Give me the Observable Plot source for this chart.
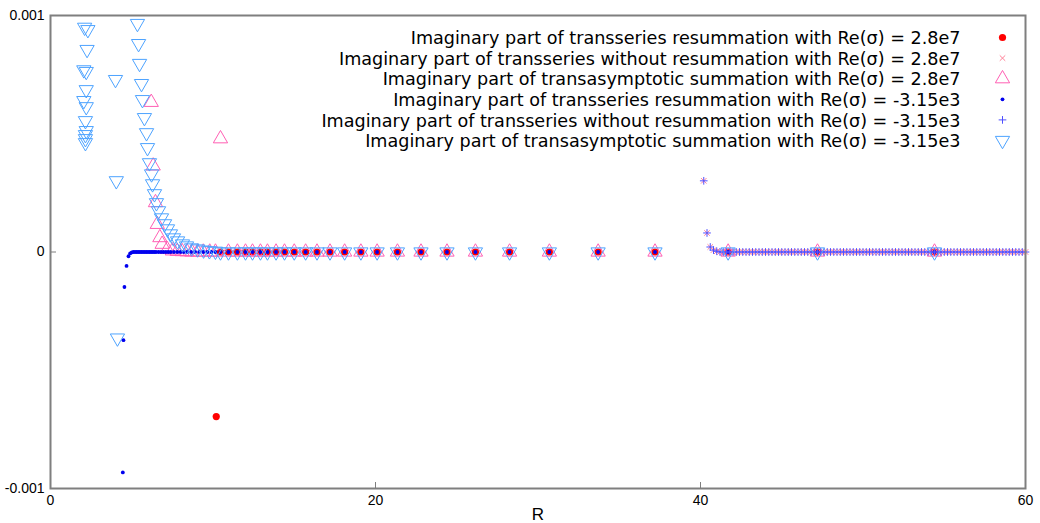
<!DOCTYPE html>
<html>
<head>
<meta charset="utf-8">
<script src="https://cdn.jsdelivr.net/npm/d3@7"></script>
<script src="https://cdn.jsdelivr.net/npm/@observablehq/plot@0.6"></script>
<style>
  html, body { margin: 0; padding: 0; background: #ffffff; }
  #chart svg { display: block; }
</style>
</head>
<body>
<div id="chart"></div>
<script>
// ---- Axis ticks -------------------------------------------------------------
const xTicks = [0, 20, 40, 60];
const xTickLabels = ["0", "20", "40", "60"];
const xInnerTicks = [20, 40];
const yTicks = [-0.001, 0, 0.001];
const yTickLabels = ["-0.001", "0", "0.001"];

// ---- Legend labels ----------------------------------------------------------
const legendLabels = [
  "Imaginary part of transseries resummation with Re(σ) = 2.8e7",
  "Imaginary part of transseries without resummation with Re(σ) = 2.8e7",
  "Imaginary part of transasymptotic summation with Re(σ) = 2.8e7",
  "Imaginary part of transseries resummation with Re(σ) = -3.15e3",
  "Imaginary part of transseries without resummation with Re(σ) = -3.15e3",
  "Imaginary part of transasymptotic summation with Re(σ) = -3.15e3"
];

// ---- Re(σ) = 2.8e7 : transseries resummation --------------------------------
const resumA_R = [10.2, 10.46, 10.95, 11.5, 12.0, 12.43, 12.92, 13.35, 13.88, 14.4,
  15.0, 15.7, 16.4, 17.2, 18.1, 19.1, 20.1, 21.35, 22.8, 24.4, 26.15, 28.25, 30.7,
  33.7, 37.2, 41.7, 47.2, 54.4];
const resumA_v = [-6.96e-4, 0, 0, 0, 0, 0, 0, 0, 0, 0,
  0, 0, 0, 0, 0, 0, 0, 0, 0, 0, 0, 0, 0,
  0, 0, 0, 0, 0];

// ---- Re(σ) = 2.8e7 : transasymptotic summation ------------------------------
const transA_R = [6.2, 6.32, 6.46, 6.57, 6.73, 6.87, 7.18, 7.5, 7.8, 8.1, 8.4, 8.7,
  9.05, 9.4, 9.8, 10.15, 10.46, 10.95, 11.5, 12.0, 12.43, 12.92, 13.35, 13.88, 14.4,
  15.0, 15.7, 16.4, 17.2, 18.1, 19.1, 20.1, 21.35, 22.8, 24.4, 26.15, 28.25, 30.7,
  33.7, 37.2, 41.7, 47.2, 54.4];
const transA_v = [6.33e-4, 3.64e-4, 2.09e-4, 1.17e-4, 6.1e-5, 3.3e-5, 1.1e-5, 5e-6, 3e-6, 2e-6, 1e-6, 0,
  0, 0, 0, 0, 4.79e-4, 0, 0, 0, 0, 0, 0, 0, 0,
  0, 0, 0, 0, 0, 0, 0, 0, 0, 0, 0, 0, 0,
  0, 0, 0, 0, 0];

// ---- Re(σ) = -3.15e3 : transseries resummation ------------------------------
const resumB_R = [4.45, 4.49, 4.55, 4.68, 4.8, 4.9, 5.0, 5.1, 5.2, 5.3, 5.4, 5.5, 5.6,
  5.7, 5.8, 5.9, 6.0, 6.1, 6.2, 6.3, 6.4, 6.5, 6.65, 6.8, 6.95, 7.1, 7.25, 7.4, 7.6,
  7.8, 8.0, 8.2, 8.4, 8.65, 8.9, 9.15, 9.4, 9.65, 9.9, 10.15, 10.46, 10.95, 11.5,
  12.0, 12.43, 12.92, 13.35, 13.88, 14.4, 15.0, 15.7, 16.4, 17.2, 18.1, 19.1, 20.1,
  21.35, 22.8, 24.4, 26.15, 28.25, 30.7, 33.7, 37.2, 41.7, 47.2, 54.4];
const resumB_v = [-9.32e-4, -3.73e-4, -1.48e-4, -5.9e-5, -1.8e-5, -6e-6, -2e-6, 0, 0, 0, 0, 0, 0,
  0, 0, 0, 0, 0, 0, 0, 0, 0, 0, 0, 0, 0, 0, 0, 0,
  0, 0, 0, 0, 0, 0, 0, 0, 0, 0, 0, 0, 0, 0,
  0, 0, 0, 0, 0, 0, 0, 0, 0, 0, 0, 0, 0,
  0, 0, 0, 0, 0, 0, 0, 0, 0, 0, 0];

// ---- Re(σ) = -3.15e3 : transasymptotic summation ----------------------------
const transB_R = [2.1, 2.3, 2.25, 2.05, 2.2, 2.2, 2.05, 2.2, 2.15, 2.2, 2.15, 2.15, 2.15,
  4.0, 4.05, 4.12,
  5.35, 5.42, 5.48, 5.6, 5.66, 5.78, 5.91, 5.97, 6.09, 6.22, 6.28, 6.4, 6.52, 6.65,
  6.83, 7.02, 7.2, 7.38, 7.57, 7.82, 8.12, 8.37, 8.68, 9.05, 9.42, 9.78, 10.15,
  10.46, 10.95, 11.5, 12.0, 12.43, 12.92, 13.35, 13.88, 14.4, 15.0, 15.7, 16.4, 17.2,
  18.1, 19.1, 20.1, 21.35, 22.8, 24.4, 26.15, 28.25, 30.7, 33.7, 37.2, 41.7, 47.2, 54.4];
const transB_v = [9.5e-4, 9.4e-4, 8.56e-4, 7.7e-4, 7.63e-4, 6.86e-4, 6.4e-4, 6.14e-4, 5.55e-4, 5.13e-4, 4.96e-4, 4.79e-4, 4.62e-4,
  7.29e-4, 3.01e-4, -3.64e-4,
  9.66e-4, 8.81e-4, 7.97e-4, 7.12e-4, 6.44e-4, 5.68e-4, 5.04e-4, 4.41e-4, 3.77e-4, 3.3e-4, 2.88e-4, 2.46e-4, 2.08e-4, 1.74e-4,
  1.44e-4, 1.19e-4, 9.75e-5, 7.63e-5, 5.93e-5, 4.66e-5, 3.39e-5, 2.54e-5, 1.7e-5, 1.27e-5, 8e-6, 5e-6, 3e-6,
  0, 0, 0, 0, 0, 0, 0, 0, 0, 0, 0, 0, 0,
  0, 0, 0, 0, 0, 0, 0, 0, 0, 0, 0, 0, 0, 0];

// ---- Transseries without resummation (both Re(σ), identical here) -----------
const noResum_R = [40.2, 40.4, 40.6, 40.8, 41, 41.2, 41.4, 41.6, 41.8, 42,
  42.2, 42.4, 42.6, 42.8, 43, 43.2, 43.4, 43.6, 43.8, 44,
  44.2, 44.4, 44.6, 44.8, 45, 45.2, 45.4, 45.6, 45.8, 46,
  46.2, 46.4, 46.6, 46.8, 47, 47.2, 47.4, 47.6, 47.8, 48,
  48.2, 48.4, 48.6, 48.8, 49, 49.2, 49.4, 49.6, 49.8, 50,
  50.2, 50.4, 50.6, 50.8, 51, 51.2, 51.4, 51.6, 51.8, 52,
  52.2, 52.4, 52.6, 52.8, 53, 53.2, 53.4, 53.6, 53.8, 54,
  54.2, 54.4, 54.6, 54.8, 55, 55.2, 55.4, 55.6, 55.8, 56,
  56.2, 56.4, 56.6, 56.8, 57, 57.2, 57.4, 57.6, 57.8, 58,
  58.2, 58.4, 58.6, 58.8, 59, 59.2, 59.4, 59.6, 59.8, 60];
const noResumA_v = [3.01e-4, 8.05e-5, 2.12e-5, 8e-6, 3e-6, 0, 0, 0, 0, 0,
  0, 0, 0, 0, 0, 0, 0, 0, 0, 0,
  0, 0, 0, 0, 0, 0, 0, 0, 0, 0,
  0, 0, 0, 0, 0, 0, 0, 0, 0, 0,
  0, 0, 0, 0, 0, 0, 0, 0, 0, 0,
  0, 0, 0, 0, 0, 0, 0, 0, 0, 0,
  0, 0, 0, 0, 0, 0, 0, 0, 0, 0,
  0, 0, 0, 0, 0, 0, 0, 0, 0, 0,
  0, 0, 0, 0, 0, 0, 0, 0, 0, 0,
  0, 0, 0, 0, 0, 0, 0, 0, 0, 0];
const noResumB_v = [3.01e-4, 8.05e-5, 2.12e-5, 8e-6, 3e-6, 0, 0, 0, 0, 0,
  0, 0, 0, 0, 0, 0, 0, 0, 0, 0,
  0, 0, 0, 0, 0, 0, 0, 0, 0, 0,
  0, 0, 0, 0, 0, 0, 0, 0, 0, 0,
  0, 0, 0, 0, 0, 0, 0, 0, 0, 0,
  0, 0, 0, 0, 0, 0, 0, 0, 0, 0,
  0, 0, 0, 0, 0, 0, 0, 0, 0, 0,
  0, 0, 0, 0, 0, 0, 0, 0, 0, 0,
  0, 0, 0, 0, 0, 0, 0, 0, 0, 0,
  0, 0, 0, 0, 0, 0, 0, 0, 0, 0];

// ---- Helpers ----------------------------------------------------------------
const rows = (R, v) => R.map((r, i) => ({R: r, v: v[i]}));

// Hollow triangle symbols (pointing up / down), centred on their centroid
const SQRT3 = Math.sqrt(3);
const triUp = {
  draw(context, size) {
    const y = -Math.sqrt(size / (SQRT3 * 3));
    context.moveTo(0, y * 2);
    context.lineTo(-SQRT3 * y, -y);
    context.lineTo(SQRT3 * y, -y);
    context.closePath();
  }
};
const triDown = {
  draw(context, size) {
    const y = Math.sqrt(size / (SQRT3 * 3));
    context.moveTo(0, y * 2);
    context.lineTo(-SQRT3 * y, -y);
    context.lineTo(SQRT3 * y, -y);
    context.closePath();
  }
};

const C = {
  resumA: "#ff0000",
  noResumA: "#ff8097",
  transA: "#ff5fb4",
  resumB: "#0000ee",
  noResumB: "#5050ff",
  transB: "#4da3ff",
  frame: "#7f7f7f",
  text: "#000000"
};

const styles = [
  {symbol: "circle", r: 3.6, fill: C.resumA, stroke: "none"},
  {symbol: "times", r: 2.6, fill: "none", stroke: C.noResumA, strokeWidth: 1},
  {symbol: triUp, r: 5.3, fill: "none", stroke: C.transA, strokeWidth: 1},
  {symbol: "circle", r: 1.9, fill: C.resumB, stroke: "none"},
  {symbol: "plus", r: 2.6, fill: "none", stroke: C.noResumB, strokeWidth: 1},
  {symbol: triDown, r: 5.3, fill: "none", stroke: C.transB, strokeWidth: 1}
];

const series = [
  rows(resumA_R, resumA_v),
  rows(noResum_R, noResumA_v),
  rows(transA_R, transA_v),
  rows(resumB_R, resumB_v),
  rows(noResum_R, noResumB_v),
  rows(transB_R, transB_v)
];

const W = 1040, H = 523;
const M = {top: 15, right: 15, bottom: 35, left: 50};
const innerW = W - M.left - M.right;
const innerH = H - M.top - M.bottom;

// Data marks, one per series, drawn in the legend order
const dataMarks = series.map((d, i) =>
  Plot.dot(d, {x: "R", y: "v", ...styles[i]})
);

// Legend: right-aligned labels with their symbols to the right
const legendFont = 17.6;
const legendTop = 22, legendStep = 20.6;
const legendMarks = [
  Plot.text([legendLabels.join("\n")], {
    frameAnchor: "top-right",
    dx: -65,
    dy: legendTop - 8,
    textAnchor: "end",
    lineAnchor: "top",
    lineHeight: legendStep / legendFont,
    fontSize: legendFont,
    fill: C.text
  }),
  ...styles.map((s, i) =>
    Plot.dot([legendLabels[i]], {
      frameAnchor: "top-right",
      dx: -23,
      dy: legendTop + i * legendStep,
      ...s
    })
  )
];

const chart = Plot.plot({
  width: W,
  height: H,
  marginTop: M.top,
  marginRight: M.right,
  marginBottom: M.bottom,
  marginLeft: M.left,
  style: {fontFamily: "'DejaVu Sans', sans-serif", background: "#ffffff", color: "#000"},
  x: {domain: [0, 60]},
  y: {domain: [-0.001, 0.001]},
  marks: [
    Plot.axisX({
      ticks: xTicks,
      tickFormat: (d) => xTickLabels[xTicks.indexOf(d)],
      tickSize: 0,
      tickPadding: 7,
      fontSize: 14,
      fontFamily: "'Liberation Sans', sans-serif",
      label: null
    }),
    Plot.axisY({
      ticks: yTicks,
      tickFormat: (d) => yTickLabels[yTicks.indexOf(d)],
      tickSize: 0,
      tickPadding: 6,
      fontSize: 14,
      fontFamily: "'Liberation Sans', sans-serif",
      label: null
    }),
    // short inward tick marks
    Plot.ruleX(xInnerTicks, {stroke: C.frame, strokeWidth: 1, insetTop: innerH - 6}),
    Plot.ruleY([0], {stroke: C.frame, strokeWidth: 1, insetRight: innerW - 6}),
    ...dataMarks,
    Plot.frame({stroke: C.frame, strokeWidth: 2}),
    Plot.text(["R"], {
      frameAnchor: "bottom",
      dy: 31,
      fontSize: 17,
      fontFamily: "'Liberation Sans', sans-serif",
      fill: C.text
    }),
    ...legendMarks
  ]
});

document.getElementById("chart").appendChild(chart);
</script>
</body>
</html>
